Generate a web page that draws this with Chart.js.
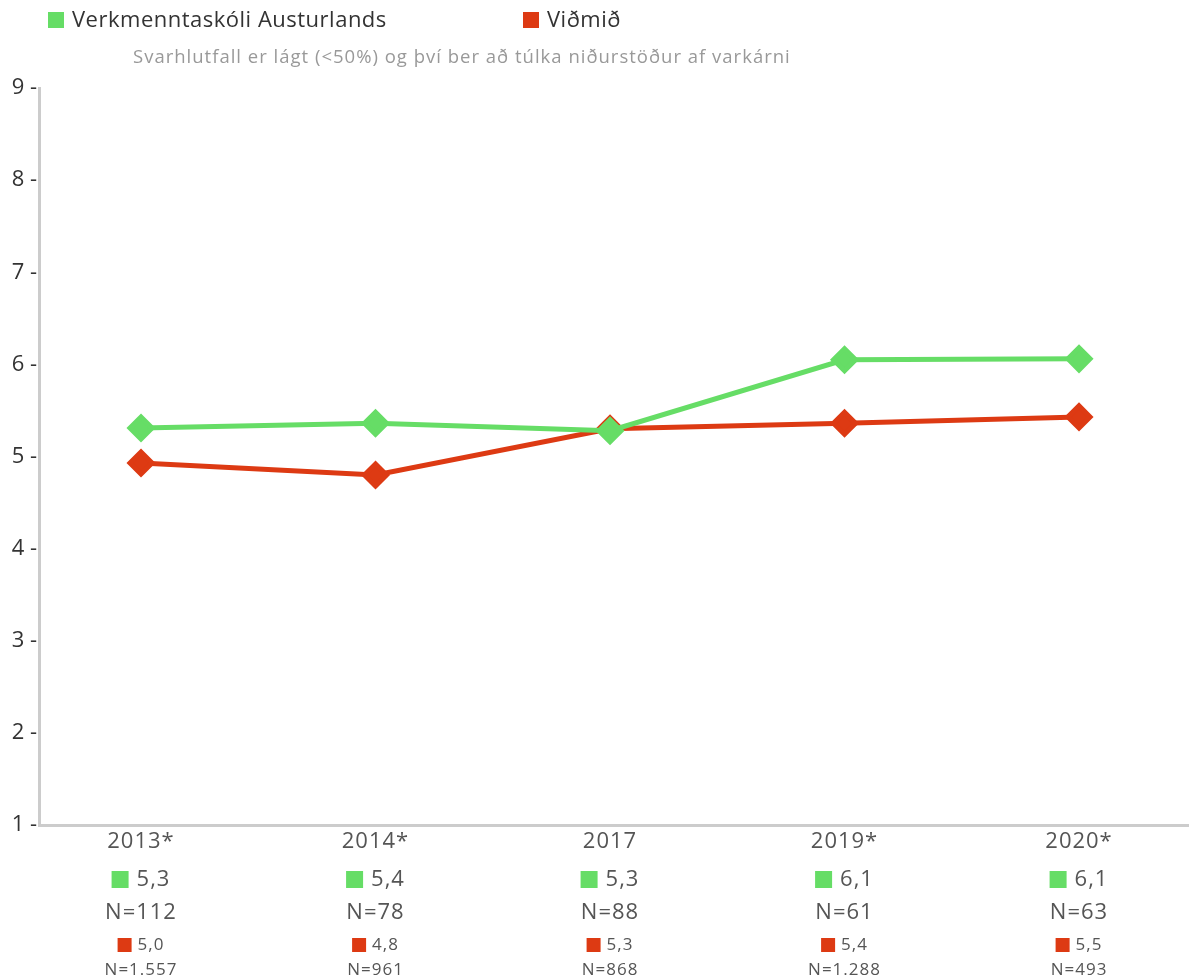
<!DOCTYPE html>
<html>
<head>
<meta charset="utf-8">
<script src="https://cdn.jsdelivr.net/npm/chart.js@4"></script>
<style>
  body { margin: 0; background: #fff; font-family: "Open Sans", sans-serif; }
  #wrap { position: relative; width: 1189px; height: 980px; overflow: hidden; }
  .leg { position: absolute; top: 3px; font-size: 22px; color: #333; letter-spacing: 0.5px; }
  .leg span { display: inline-block; width: 16px; height: 16px; margin-right: 8px; vertical-align: -1px; }
  #note { position: absolute; top: 43px; left: 133px; font-size: 18.5px; color: #999; letter-spacing: 1px; }
  canvas { position: absolute; left: 0; top: 0; }
</style>
</head>
<body>
<div id="wrap">
  <canvas id="myChart" width="1205" height="980"></canvas>
  <div class="leg" style="left:48px"><span style="background:#66dd66"></span>Verkmenntaskóli Austurlands</div>
  <div class="leg" style="left:523px"><span style="background:#dd3a13"></span>Viðmið</div>
  <div id="note">Svarhlutfall er lágt (&lt;50%) og því ber að túlka niðurstöður af varkárni</div>
</div>
<script>
const years = ['2013*', '2014*', '2017', '2019*', '2020*'];
const schoolValues = [5.31, 5.36, 5.28, 6.05, 6.06];
const benchValues = [4.93, 4.80, 5.30, 5.36, 5.43];
const schoolLabels = ['5,3', '5,4', '5,3', '6,1', '6,1'];
const schoolN = ['N=112', 'N=78', 'N=88', 'N=61', 'N=63'];
const benchLabels = ['5,0', '4,8', '5,3', '5,4', '5,5'];
const benchN = ['N=1.557', 'N=961', 'N=868', 'N=1.288', 'N=493'];

const green = '#66dd66';
const red = '#dd3a13';
const FONT = '"Open Sans"';

// year + value rows under each point, placed with the x scale
const belowAxis = {
  id: 'belowAxis',
  afterDraw(chart) {
    const { ctx, scales: { x } } = chart;
    const base = chart.chartArea.bottom;
    ctx.save();
    ctx.letterSpacing = '1px';
    ctx.textAlign = 'center';
    ctx.textBaseline = 'middle';
    years.forEach((year, i) => {
      const px = x.getPixelForValue(i);
      ctx.fillStyle = '#555';
      ctx.font = '22px ' + FONT;
      ctx.fillText(year, px, base + 17);

      let w = ctx.measureText(schoolLabels[i]).width;
      let start = px - (w + 25) / 2;
      ctx.fillStyle = green;
      ctx.fillRect(start, base + 46, 17, 17);
      ctx.fillStyle = '#555';
      ctx.textAlign = 'left';
      ctx.fillText(schoolLabels[i], start + 25, base + 55);
      ctx.textAlign = 'center';
      ctx.fillText(schoolN[i], px, base + 88);

      ctx.font = '17px ' + FONT;
      w = ctx.measureText(benchLabels[i]).width;
      start = px - (w + 20) / 2;
      ctx.fillStyle = red;
      ctx.fillRect(start, base + 113, 14, 14);
      ctx.fillStyle = '#555';
      ctx.textAlign = 'left';
      ctx.fillText(benchLabels[i], start + 20, base + 120);
      ctx.textAlign = 'center';
      ctx.fillText(benchN[i], px, base + 145);
    });
    ctx.restore();
  }
};

const ctx = document.getElementById('myChart').getContext('2d');

const chart = new Chart(ctx, {
  type: 'line',
  data: {
    datasets: [{
      label: 'Verkmenntaskóli Austurlands',
      data: schoolValues.map((v, i) => ({ x: i, y: v })),
      borderColor: green,
      backgroundColor: green,
      borderWidth: 5,
      pointStyle: 'rectRot',
      pointRadius: 11,
      pointHoverRadius: 11,
    }, {
      label: 'Viðmið',
      data: benchValues.map((v, i) => ({ x: i, y: v })),
      borderColor: red,
      backgroundColor: red,
      borderWidth: 5,
      pointStyle: 'rectRot',
      pointRadius: 11,
      pointHoverRadius: 11,
    }],
  },
  options: {
    responsive: false,
    animation: false,
    layout: { padding: { top: 88, right: 0, left: 0, bottom: 0 } },
    plugins: {
      legend: { display: false },
      tooltip: { enabled: false },
    },
    scales: {
      x: {
        type: 'linear',
        min: -0.435,
        max: 4.469,
        grid: { display: false, drawTicks: false },
        border: { color: '#cccccc', width: 3 },
        ticks: { display: false },
        afterFit: (scale) => { scale.height = 155; },
      },
      y: {
        min: 1,
        max: 9,
        grid: { display: false, drawTicks: false },
        border: { color: '#cccccc', width: 3 },
        ticks: {
          stepSize: 1,
          padding: 2,
          color: '#333',
          font: { family: 'Open Sans', size: 22 },
          callback: (v) => v + ' -',
        },
        afterFit: (scale) => { scale.width = 39; },
      },
    },
  },
  plugins: [belowAxis],
});
</script>
</body>
</html>
